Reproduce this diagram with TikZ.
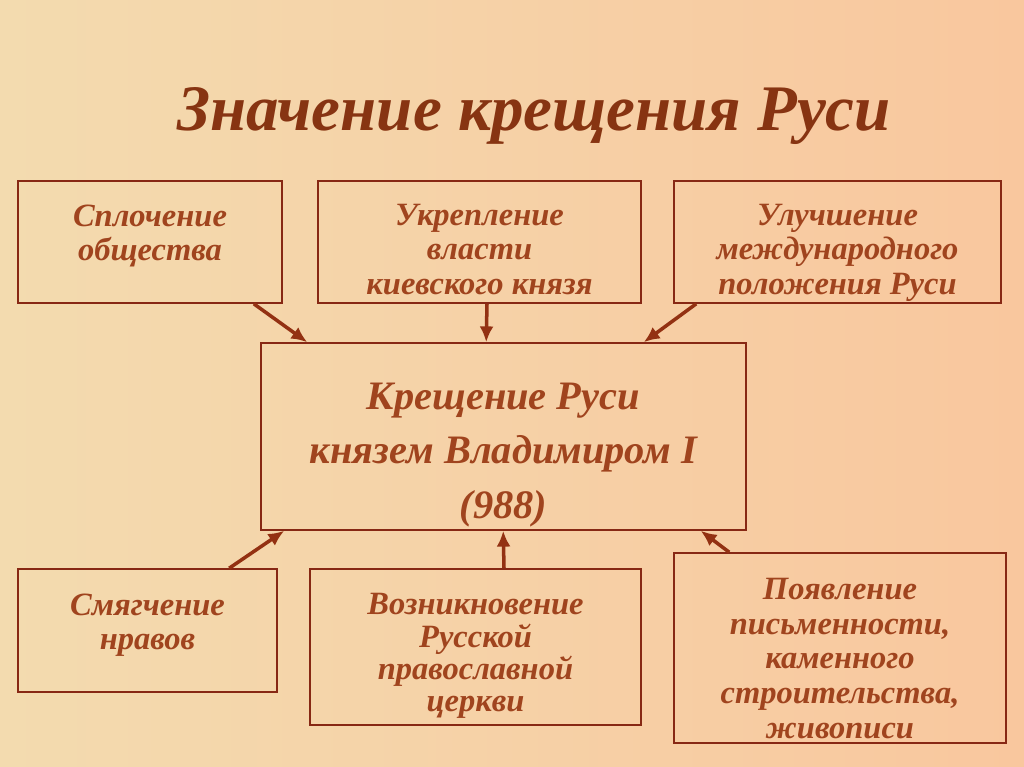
\documentclass[tikz,border=0pt]{standalone}
\usepackage{fontspec}
\setmainfont{Liberation Serif}
\usetikzlibrary{arrows.meta,calc}

\definecolor{bgleft}{RGB}{243,219,175}
\definecolor{bgright}{RGB}{249,199,158}
\definecolor{framered}{RGB}{135,40,20}
\definecolor{textbrown}{RGB}{160,68,30}
\definecolor{titlebrown}{RGB}{135,52,18}

\begin{document}
\begin{tikzpicture}[x=0.02cm,y=-0.02cm]

\tikzset{box/.style = {shape=rectangle,draw=framered,line width=0.9pt,inner sep=0pt,
  align=center,text=textbrown,text depth=0pt,font=\bfseries\itshape\fontsize{18.5}{19.8}\selectfont}}
\tikzset{link/.style = {->,> = {Latex[length=9pt,width=8pt]},line width=2pt,draw=framered!90!orange}}

% background
\shade[left color=bgleft,right color=bgright] (0,0) rectangle (1024,767);
\useasboundingbox (0,0) rectangle (1024,767);

\node[anchor=base,text=titlebrown,font=\bfseries\itshape\fontsize{37}{40}\selectfont] (title) at (534,131) {Значение крещения Руси};

% text height = twice the drop of the last baseline below the centre
\node[box,minimum width=264*0.02cm,minimum height=122*0.02cm,text height=21.5pt] (s1) at (150,242) {Сплочение\\общества};
\node[box,minimum width=323*0.02cm,minimum height=122*0.02cm,text height=60pt] (s2) at (479.5,242) {Укрепление\\власти\\киевского князя};
\node[box,minimum width=327*0.02cm,minimum height=122*0.02cm,text height=60pt] (s3) at (837.5,242) {Улучшение\\международного\\положения Руси};

\node[box,minimum width=485*0.02cm,minimum height=187*0.02cm,text height=93pt,
  font=\bfseries\itshape\fontsize{23}{31}\selectfont] (c) at (503.5,436.5) {Крещение Руси\\князем Владимиром I\\(988)};

\node[box,minimum width=259*0.02cm,minimum height=123*0.02cm,text height=22pt] (s4) at (147.5,630.5) {Смягчение\\нравов};
\node[box,minimum width=331*0.02cm,minimum height=156*0.02cm,text height=73.7pt,
  font=\bfseries\itshape\fontsize{18.5}{18.4}\selectfont] (s5) at (475.5,647) {Возникновение\\Русской\\православной\\церкви};
\node[box,minimum width=332*0.02cm,minimum height=190*0.02cm,text height=103pt] (s6) at (840,648) {Появление\\письменности,\\каменного\\строительства,\\живописи};

\draw[link] ($(s1.south east)+(-29,0)$) -- ($(c.north west)+(47,0)$);
\draw[link] ($(s2.south)+(7.5,0)$) -- ($(c.north west)+(226,0)$);
\draw[link] ($(s3.south west)+(23,0)$) -- ($(c.north east)+(-103,0)$);
\draw[link] ($(s4.north west)+(212,0)$) -- ($(c.south west)+(24,0)$);
\draw[link] ($(s5.north)+(28.5,0)$) -- ($(c.south west)+(243,0)$);
\draw[link] ($(s6.north west)+(56,0)$) -- ($(c.south east)+(-46,0)$);

\end{tikzpicture}
\end{document}
